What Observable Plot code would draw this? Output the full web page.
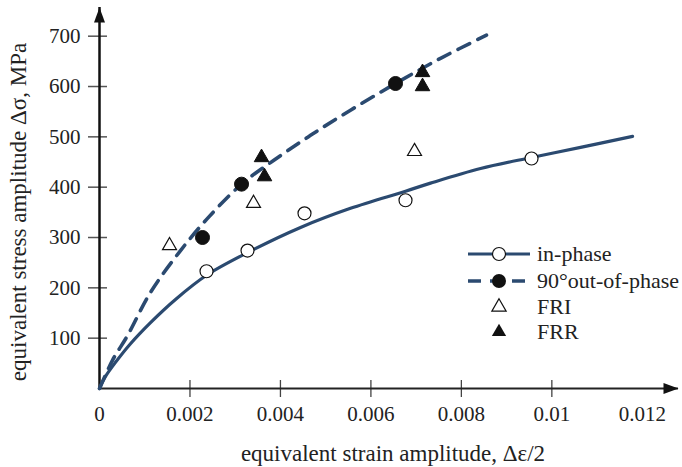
<!DOCTYPE html>
<html>
<head>
<meta charset="utf-8">
<script src="https://cdn.jsdelivr.net/npm/d3@7"></script>
<script src="https://cdn.jsdelivr.net/npm/@observablehq/plot@0.6"></script>
<style>
  html, body { margin: 0; padding: 0; background: #fff; }
  #chart svg { display: block; }
  #chart svg, #chart svg text { font-family: "Liberation Serif", "Times New Roman", "DejaVu Serif", serif !important; }
</style>
</head>
<body>
<div id="chart"></div>
<script>
// ---- data ----
const inPhaseStrain = [0.002366, 0.003272, 0.004532, 0.006765, 0.009551];
const inPhaseStress = [233, 274, 348, 374, 457];

const outPhaseStrain = [0.002277, 0.00314, 0.006544];
const outPhaseStress = [300, 406, 606];

const friStrain = [0.001548, 0.003405, 0.006964];
const friStress = [284, 368, 471];

const frrStrain = [0.003582, 0.003648, 0.007141, 0.007141];
const frrStress = [459, 421, 628, 600];

// curve traces
const inCurveStrain = [0, 0.000133, 0.000354, 0.000685, 0.001128, 0.00168, 0.002366, 0.003272, 0.004444, 0.005549, 0.006765, 0.007318, 0.008424, 0.009551, 0.010635, 0.011784];
const inCurveStress = [0, 24, 52, 89, 131, 177, 225, 270, 320, 358, 392, 408, 437, 459, 479, 501];

const outCurveStrain = [0, 0.000287, 0.000619, 0.001128, 0.001791, 0.002388, 0.00314, 0.003847, 0.004665, 0.005549, 0.006544, 0.007539, 0.008556];
const outCurveStress = [0, 56, 105, 191, 274, 338, 406, 453, 503, 553, 606, 656, 702];

const xTicks = [0, 0.002, 0.004, 0.006, 0.008, 0.01, 0.012];
const xTickLabels = ["0", "0.002", "0.004", "0.006", "0.008", "0.01", "0.012"];
const xTickMarks = [0.002, 0.004, 0.006, 0.008, 0.01];
const yTicks = [100, 200, 300, 400, 500, 600, 700];
const yTickLabels = ["100", "200", "300", "400", "500", "600", "700"];

const legendLabels = ["in-phase", "90°out-of-phase", "FRI", "FRR"];
const xTitle = "equivalent strain amplitude, Δε/2";
const yTitle = "equivalent stress amplitude Δσ, MPa";

const xMax = 0.0128;
const yMax = 757;

// ---- build tables ----
const zip = (xs, ys) => xs.map((x, i) => ({x, y: ys[i]}));
const inPts = zip(inPhaseStrain, inPhaseStress);
const outPts = zip(outPhaseStrain, outPhaseStress);
const friPts = zip(friStrain, friStress);
const frrPts = zip(frrStrain, frrStress);
const inCurve = zip(inCurveStrain, inCurveStress);
const outCurve = zip(outCurveStrain, outCurveStress);

const FONT = "'Liberation Serif', 'Times New Roman', serif";
const NAVY = "#2b4a70";
const FS = 21;
const FS_TITLE = 23;
const FS_LEGEND = 22;

const arrowSym = {
  draw(ctx) {
    ctx.moveTo(0, 0);
    ctx.lineTo(-15, -5.5);
    ctx.lineTo(-15, 5.5);
    ctx.closePath();
  }
};

const chart = Plot.plot({
  width: 682,
  height: 467,
  marginLeft: 99,
  marginRight: 4,
  marginTop: 7,
  marginBottom: 79,
  style: {fontFamily: FONT, fontSize: FS + "px", color: "#111", background: "#fff"},
  x: {domain: [0, xMax], axis: null},
  y: {domain: [0, yMax], axis: null},
  marks: [
    // tick marks crossing the axes
    Plot.axisX({ticks: xTickMarks, tickSize: 17, dy: -8, tickFormat: () => "", label: null, stroke: "#444", strokeWidth: 1.3}),
    Plot.axisY({ticks: yTicks, tickSize: 19, dx: 8, tickFormat: () => "", label: null, stroke: "#555", strokeWidth: 1.5}),
    // tick labels
    Plot.axisX({ticks: xTicks, tickSize: 0, tickPadding: 18, label: null, tickFormat: d => xTickLabels[xTicks.indexOf(d)], fontSize: FS, fill: "#222"}),
    Plot.axisY({ticks: yTicks, tickSize: 0, tickPadding: 19, label: null, tickFormat: d => yTickLabels[yTicks.indexOf(d)], fontSize: FS, fill: "#222"}),
    // axis lines
    Plot.ruleY([0], {stroke: "#222", strokeWidth: 2}),
    Plot.ruleX([0], {stroke: "#111", strokeWidth: 2.5}),
    Plot.dot([{x: xMax, y: 0}], {x: "x", y: "y", symbol: arrowSym, fill: "#111", stroke: "none", r: 5}),
    Plot.dot([{x: 0, y: yMax}], {x: "x", y: "y", symbol: arrowSym, rotate: -90, fill: "#111", stroke: "none", r: 5}),
    // curves
    Plot.line(inCurve, {x: "x", y: "y", stroke: NAVY, strokeWidth: 3.2, curve: "catmull-rom"}),
    Plot.line(outCurve, {x: "x", y: "y", stroke: NAVY, strokeWidth: 3.6, strokeDasharray: "13,9", curve: "catmull-rom"}),
    // points
    Plot.dot(inPts, {x: "x", y: "y", r: 6.5, fill: "white", stroke: "#111", strokeWidth: 1.2}),
    Plot.dot(outPts, {x: "x", y: "y", r: 7, fill: "#111", stroke: "#111", strokeWidth: 1}),
    Plot.dot(friPts, {x: "x", y: "y", symbol: "triangle", r: 5.2, fill: "white", stroke: "#111", strokeWidth: 1.2}),
    Plot.dot(frrPts, {x: "x", y: "y", symbol: "triangle", r: 5.4, fill: "#111", stroke: "#111", strokeWidth: 1}),
    // axis titles
    Plot.text([xTitle], {text: d => d, frameAnchor: "bottom", textAnchor: "middle", lineAnchor: "middle", dx: 4, dy: 65, fontSize: FS_TITLE, fill: "#222"}),
    Plot.text([yTitle], {text: d => d, frameAnchor: "left", textAnchor: "middle", lineAnchor: "middle", rotate: -90, dx: -81, dy: 14, fontSize: FS_TITLE, fill: "#222"})
  ]
});

// legend (layout overlay)
const svg = d3.select(chart);
const lg = svg.append("g").attr("font-family", FONT).attr("font-size", FS_LEGEND).attr("fill", "#222").attr("text-anchor", "start");
const rows = [254, 281, 307, 332];
const lx0 = 468, lx1 = 530, lmx = 499, ltx = 537;
// in-phase
lg.append("line").attr("x1", lx0).attr("x2", lx1).attr("y1", rows[0]).attr("y2", rows[0]).attr("stroke", NAVY).attr("stroke-width", 3.2);
lg.append("circle").attr("cx", lmx).attr("cy", rows[0]).attr("r", 6.5).attr("fill", "white").attr("stroke", "#111").attr("stroke-width", 1.2);
// out-of-phase
lg.append("line").attr("x1", lx0).attr("x2", lx1).attr("y1", rows[1]).attr("y2", rows[1]).attr("stroke", NAVY).attr("stroke-width", 3.6).attr("stroke-dasharray", "13,9");
lg.append("circle").attr("cx", lmx).attr("cy", rows[1]).attr("r", 7).attr("fill", "#111");
// FRI / FRR
const tri = d3.symbol(d3.symbolTriangle, Math.PI * 5.3 * 5.3)();
lg.append("path").attr("d", tri).attr("transform", `translate(${lmx},${rows[2]})`).attr("fill", "white").attr("stroke", "#111").attr("stroke-width", 1.2);
lg.append("path").attr("d", tri).attr("transform", `translate(${lmx},${rows[3]})`).attr("fill", "#111");
legendLabels.forEach((t, i) => {
  lg.append("text").attr("x", ltx).attr("y", rows[i]).attr("dy", "0.32em").text(t);
});

document.getElementById("chart").appendChild(chart);
</script>
</body>
</html>
